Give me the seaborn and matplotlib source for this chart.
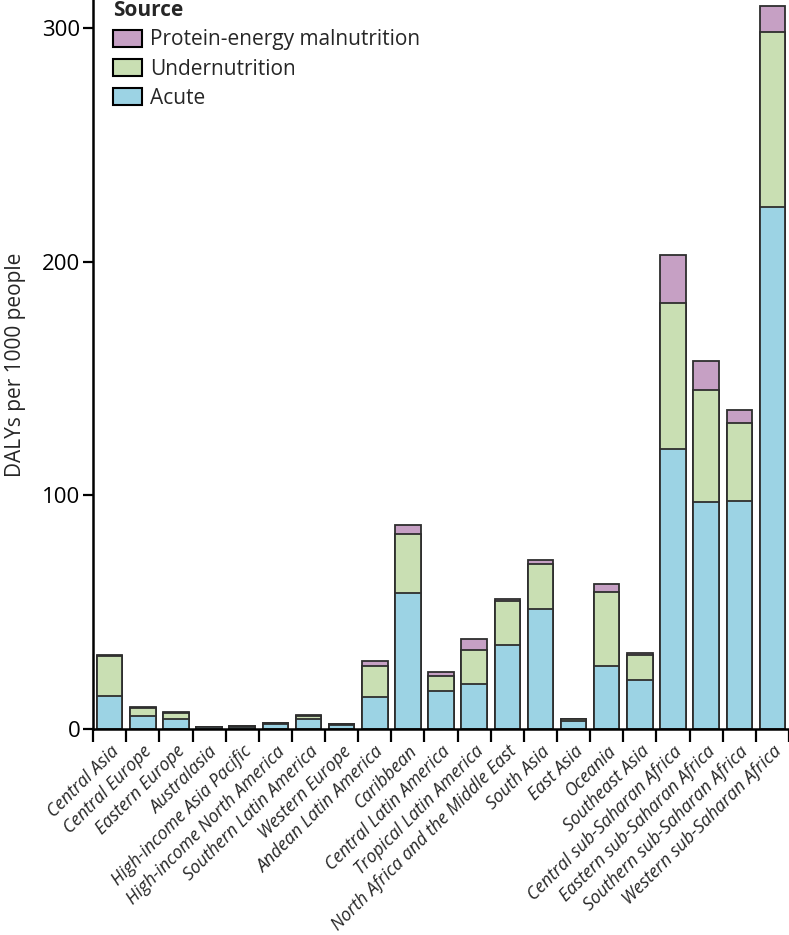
import numpy as np
import pandas as pd
import matplotlib
matplotlib.use("Agg")
import matplotlib.pyplot as plt
import seaborn as sns
from matplotlib.patches import Patch

# Data
regions = [
    "Central Asia", "Central Europe", "Eastern Europe", "Australasia",
    "High-income Asia Pacific", "High-income North America",
    "Southern Latin America", "Western Europe", "Andean Latin America",
    "Caribbean", "Central Latin America", "Tropical Latin America",
    "North Africa and the Middle East", "South Asia", "East Asia", "Oceania",
    "Southeast Asia", "Central sub-Saharan Africa", "Eastern sub-Saharan Africa",
    "Southern sub-Saharan Africa", "Western sub-Saharan Africa",
]
acute = [14.1, 5.5, 4.1, 0.7, 1.0, 2.3, 4.1, 1.9, 13.5, 58.0, 16.4, 19.1,
         35.9, 51.5, 3.4, 27.0, 20.8, 119.7, 97.1, 97.7, 223.6]
undernutrition = [17.2, 3.7, 2.7, 0.1, 0.2, 0.1, 1.5, 0.1, 13.4, 25.5, 6.4, 14.7,
                  18.8, 19.0, 0.8, 31.5, 11.0, 62.8, 47.8, 33.1, 74.6]
pem = [0.5, 0.3, 0.3, 0.0, 0.0, 0.0, 0.2, 0.0, 2.1, 4.0, 1.7, 4.7,
       0.9, 2.0, 0.2, 3.5, 0.8, 20.5, 12.4, 5.6, 11.1]

series_names = ["Protein-energy malnutrition", "Undernutrition", "Acute"]
colors = {"Protein-energy malnutrition": "#c6a0c4",
          "Undernutrition": "#c9dfb3",
          "Acute": "#9cd3e4"}
edge = "#2e2e2e"

df = pd.DataFrame({"region": regions, "acute": acute,
                   "under": undernutrition, "pem": pem})
df["lvl_acute"] = df["acute"]
df["lvl_under"] = df["acute"] + df["under"]
df["lvl_total"] = df["lvl_under"] + df["pem"]

sns.set_style("white")
plt.rcParams["font.family"] = ["Open Sans", "DejaVu Sans"]

fig = plt.figure(figsize=(7.89, 9.35), dpi=100)
ax = fig.add_axes([0.118, 0.2203, 0.882, 0.7797])

# stacked bars drawn as cumulative layers (tallest first)
for col, name in [("lvl_total", "Protein-energy malnutrition"),
                  ("lvl_under", "Undernutrition"),
                  ("lvl_acute", "Acute")]:
    sns.barplot(data=df, x="region", y=col, color=colors[name],
                saturation=1, width=0.77, edgecolor=edge, linewidth=1.3,
                errorbar=None, ax=ax)

ax.set_xlim(-0.5, len(regions) - 0.5)
ax.set_ylim(0, 312)
ax.set_yticks([0, 100, 200, 300])
ax.tick_params(axis="y", labelsize=16, length=7, width=1.6,
               direction="out", left=True, pad=2, colors="black")

# tick marks between bars, labels at bar centres
ax.set_xticks(np.arange(len(regions)))
ax.set_xticks(np.arange(-0.5, len(regions)), minor=True)
ax.tick_params(axis="x", which="major", length=0, pad=9.5)
ax.tick_params(axis="x", which="minor", length=9, width=1.6,
               direction="out", bottom=True, color="black")
ax.set_xticklabels(regions, rotation=45, ha="right", rotation_mode="anchor",
                   fontsize=12.7, fontstyle="italic")

ax.set_xlabel("")
ax.set_ylabel("DALYs per 1000 people", fontsize=15, labelpad=12)

for s in ["top", "right"]:
    ax.spines[s].set_visible(False)
for s in ["left", "bottom"]:
    ax.spines[s].set_color("black")
    ax.spines[s].set_linewidth(1.8)

handles = [Patch(facecolor=colors[n], edgecolor="black", linewidth=1.5)
           for n in series_names]
leg = ax.legend(handles, series_names, title="Source", loc="upper left",
                bbox_to_anchor=(0.029, 1.0), frameon=False, fontsize=15,
                title_fontproperties={"weight": "bold", "size": 15},
                handlelength=1.4, handleheight=0.9, handletextpad=0.35,
                labelspacing=0.4, borderpad=0, borderaxespad=0,
                alignment="left")

fig.savefig("out.png", dpi=100)
